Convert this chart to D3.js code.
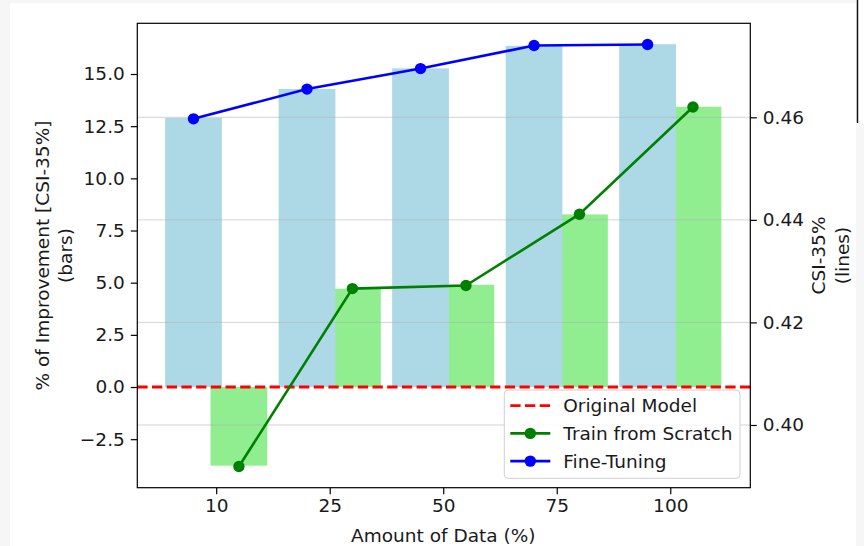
<!DOCTYPE html>
<html><head><meta charset="utf-8">
<script src="https://cdn.jsdelivr.net/npm/d3@7"></script>
<style>html,body{margin:0;padding:0;background:#f6f6f6;} svg{display:block;}</style>
</head><body><svg id="c" width="864" height="546"></svg>
<script>
// ---- data ----
const categories = ["10", "25", "50", "75", "100"];
const fineTuningImprovement = [12.90, 14.28, 15.27, 16.35, 16.43];
const scratchImprovement = [-3.77, 4.71, 4.90, 8.27, 13.43];
const fineTuningCSI = [0.4597, 0.4655, 0.4695, 0.4740, 0.4742];
const scratchCSI = [0.3919, 0.4266, 0.4272, 0.4411, 0.4620];
const originalModelImprovement = 0;
const leftTicks = [-2.5, 0, 2.5, 5, 7.5, 10, 12.5, 15];
const rightTicks = [0.40, 0.42, 0.44, 0.46];
const legendLabels = ["Original Model", "Train from Scratch", "Fine-Tuning"];

// ---- layout ----
const L = 137.3, R = 750.3, T = 23.3, B = 487.7;
const FONT = "DejaVu Sans, sans-serif", FS = 18.5, TXT = "#1a1a1a";
const svg = d3.select("#c");

// screenshot-like background
svg.append("rect").attr("x", 10).attr("y", 3).attr("width", 846).attr("height", 543).attr("fill", "#ffffff");
svg.append("rect").attr("x", 858).attr("y", 0).attr("width", 6).attr("height", 123).attr("fill", "#ffffff");
svg.append("line").attr("x1", 857.5).attr("x2", 857.5).attr("y1", 0).attr("y2", 123).attr("stroke", "#111").attr("stroke-width", 1.5);

const x = d3.scaleLinear().domain([-0.695, 4.705]).range([L, R]);
const yL = d3.scaleLinear().domain([-4.825, 17.43]).range([B, T]);
const yR = d3.scaleLinear().domain([0.38777, 0.47833]).range([B, T]);
const off = 0.2, bw = 0.5;
const idx = d3.range(categories.length);

// bars (green first, blue on top)
svg.append("g").selectAll("rect").data(idx).join("rect")
  .attr("x", i => x(i + off - bw / 2))
  .attr("width", x(bw) - x(0))
  .attr("y", i => yL(Math.max(0, scratchImprovement[i])))
  .attr("height", i => Math.abs(yL(scratchImprovement[i]) - yL(0)))
  .attr("fill", "#90ee90");
svg.append("g").selectAll("rect").data(idx).join("rect")
  .attr("x", i => x(i - off - bw / 2))
  .attr("width", x(bw) - x(0))
  .attr("y", i => yL(Math.max(0, fineTuningImprovement[i])))
  .attr("height", i => Math.abs(yL(fineTuningImprovement[i]) - yL(0)))
  .attr("fill", "#add8e6");

// original model line
svg.append("line").attr("x1", L).attr("x2", R)
  .attr("y1", yL(originalModelImprovement)).attr("y2", yL(originalModelImprovement))
  .attr("stroke", "#ff0000").attr("stroke-width", 2.8).attr("stroke-dasharray", "10.3,4.4");

// grid from right axis
svg.append("g").selectAll("line").data(rightTicks).join("line")
  .attr("x1", L).attr("x2", R).attr("y1", d => yR(d)).attr("y2", d => yR(d))
  .attr("stroke", "#b0b0b0").attr("stroke-opacity", 0.55).attr("stroke-width", 1);

// lines
function series(vals, color, shift) {
  const g = svg.append("g");
  const line = d3.line().x((d, i) => x(i + shift)).y(d => yR(d));
  g.append("path").datum(vals).attr("d", line).attr("fill", "none").attr("stroke", color).attr("stroke-width", 2.6);
  g.selectAll("circle").data(vals).join("circle")
    .attr("cx", (d, i) => x(i + shift)).attr("cy", d => yR(d))
    .attr("r", 5.7).attr("fill", color);
}
series(scratchCSI, "#008000", off);
series(fineTuningCSI, "#0000ff", -off);

// frame
svg.append("rect").attr("x", L).attr("y", T).attr("width", R - L).attr("height", B - T)
  .attr("fill", "none").attr("stroke", "#000").attr("stroke-width", 1.2);

// axes
function styleAxis(g) {
  g.select(".domain").remove();
  g.selectAll(".tick line").attr("stroke", "#000").attr("stroke-width", 1.2);
  g.selectAll(".tick text").attr("font-family", FONT).attr("font-size", FS).attr("fill", TXT);
}
svg.append("g").attr("transform", `translate(${L},0)`)
  .call(d3.axisLeft(yL).tickValues(leftTicks).tickFormat(d3.format(".1f")).tickSize(6.5).tickPadding(6))
  .call(styleAxis);
svg.append("g").attr("transform", `translate(${R},0)`)
  .call(d3.axisRight(yR).tickValues(rightTicks).tickFormat(d3.format(".2f")).tickSize(6.5).tickPadding(6))
  .call(styleAxis);
svg.append("g").attr("transform", `translate(0,${B})`)
  .call(d3.axisBottom(x).tickValues(idx).tickFormat(i => categories[i]).tickSize(6.5).tickPadding(5))
  .call(styleAxis);

// axis titles
svg.append("text").attr("x", (L + R) / 2 - 0.5).attr("y", 541.5).attr("text-anchor", "middle")
  .attr("font-family", FONT).attr("font-size", FS).attr("fill", TXT).text("Amount of Data (%)");
function vlabel(cx, cy, lines) {
  const t = svg.append("text").attr("transform", `translate(${cx},${cy}) rotate(-90)`)
    .attr("text-anchor", "middle").attr("font-family", FONT).attr("font-size", FS).attr("fill", TXT);
  lines.forEach((s, k) => t.append("tspan").attr("x", 0).attr("y", k * 23.5).attr("dominant-baseline", "central").text(s));
}
vlabel(42, (T + B) / 2, ["% of Improvement [CSI-35%]", "(bars)"]);
vlabel(818.5, (T + B) / 2, ["CSI-35%", "(lines)"]);

// legend
const lg = svg.append("g").attr("transform", `translate(${R - 246},${B - 97.7})`);
lg.append("rect").attr("width", 235.7).attr("height", 88.3).attr("rx", 4)
  .attr("fill", "#fff").attr("fill-opacity", 0.85).attr("stroke", "#d0d0d0").attr("stroke-width", 1);
const items = [
  {label: legendLabels[0], color: "#ff0000", dash: true},
  {label: legendLabels[1], color: "#008000", dash: false},
  {label: legendLabels[2], color: "#0000ff", dash: false}
];
items.forEach((it, k) => {
  const cy = 15.7 + k * 27.7;
  const h = lg.append("line").attr("x1", 6).attr("x2", 46).attr("y1", cy).attr("y2", cy).attr("stroke", it.color);
  if (it.dash) h.attr("stroke-width", 2.8).attr("stroke-dasharray", "10.3,4.4");
  else {
    h.attr("stroke-width", 2.6);
    lg.append("circle").attr("cx", 26).attr("cy", cy).attr("r", 5.7).attr("fill", it.color);
  }
  lg.append("text").attr("x", 59).attr("y", cy).attr("dominant-baseline", "central")
    .attr("font-family", FONT).attr("font-size", FS).attr("fill", TXT).text(it.label);
});
</script></body></html>
